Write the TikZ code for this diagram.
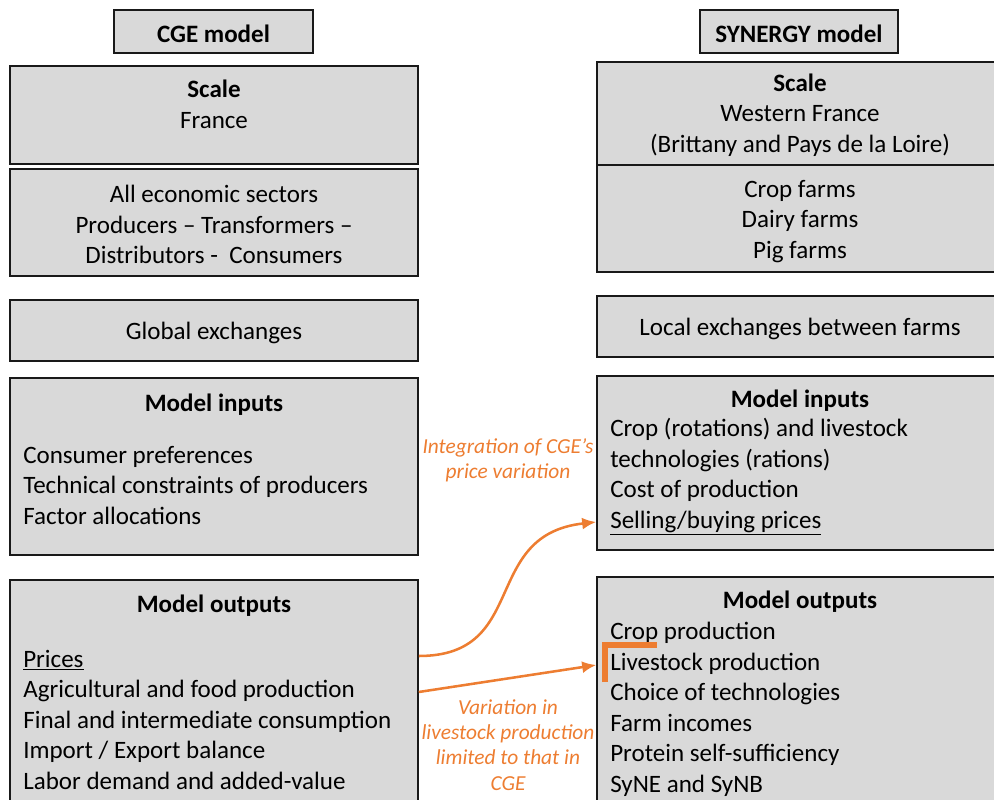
\documentclass[tikz,border=0pt]{standalone}
\usepackage{fontspec}
\setmainfont{Carlito}
\usepackage{xcolor}
\usetikzlibrary{fit,arrows.meta}
\definecolor{panelgray}{HTML}{D9D9D9}
\definecolor{linkorange}{HTML}{ED7D31}
\tikzset{
	panel/.style={draw=black!90, fill=panelgray, line width=1.1pt, inner sep=0pt},
	body/.style={font=\fontsize{17.8pt}{21.7pt}\selectfont, inner sep=0pt, yshift=-1.2pt},
	note/.style={font=\fontsize{15.2pt}{18pt}\selectfont\itshape, text=linkorange, align=center, inner sep=0pt},
	link/.style={draw=linkorange, line width=1.8pt, -{Latex[length=10pt,width=8.5pt]}}
}

\begin{document}
\begin{tikzpicture}[x=0.025cm, y=-0.025cm]
	\useasboundingbox (0,0) rectangle (994,800);

	% CGE column
	\node[panel, fit={(114,10) (313,53)}] (cgehead) {};
	\node[body] at (213.5,32) (cgeheadtxt) {\textbf{CGE model}};

	\node[panel, fit={(10,66) (418,164)}] (cgescale) {};
	\node[body, align=center] at (214,102.5) (cgescaletxt) {\textbf{Scale}\\France};

	\node[panel, fit={(10,169) (418,276)}] (cgesect) {};
	\node[body, align=center] at (214,223) (cgesecttxt) {All economic sectors\\Producers -- Transformers --\\Distributors -\ \ Consumers};

	\node[panel, fit={(10,300) (418,361)}] (cgeexch) {};
	\node[body] at (214,331) (cgeexchtxt) {Global exchanges};

	\node[panel, fit={(10,378) (418,555)}] (cgein) {};
	\node[body] at (214,403) (cgeintitle) {\textbf{Model inputs}};
	\node[body, align=left, anchor=west] at (23,483.5) (cgeinlist) {Consumer preferences\\Technical constraints of producers\\Factor allocations};

	\node[panel, fit={(10,580) (418,806)}] (cgeout) {};
	\node[body] at (214,604) (cgeouttitle) {\textbf{Model outputs}};
	\node[body, align=left, anchor=west] at (23,718) (cgeoutlist) {\underline{Prices}\\Agricultural and food production\\Final and intermediate consumption\\Import / Export balance\\Labor demand and added-value};

	% SYNERGY column
	\node[panel, fit={(700,10) (898,53)}] (synhead) {};
	\node[body] at (799,32) (synheadtxt) {\textbf{SYNERGY model}};

	\node[panel, fit={(597,62) (998,165)}] (synscale) {};
	\node[body, align=center] at (800,113.5) (synscaletxt) {\textbf{Scale}\\Western France\\(Brittany and Pays de la Loire)};

	\node[panel, fit={(597,165) (998,272)}] (synfarms) {};
	\node[body, align=center] at (800,219.5) (synfarmstxt) {Crop farms\\Dairy farms\\Pig farms};

	\node[panel, fit={(597,296) (998,357)}] (synexch) {};
	\node[body] at (800,327) (synexchtxt) {Local exchanges between farms};

	\node[panel, fit={(597,376) (998,550)}] (synin) {};
	\node[body] at (800,399) (synintitle) {\textbf{Model inputs}};
	\node[body, align=left, anchor=west] at (610,475) (syninlist) {Crop (rotations) and livestock\\technologies (rations)\\Cost of production\\\underline{Selling/buying prices}};

	\node[panel, fit={(597,577) (998,806)}] (synout) {};
	\node[body] at (800,600) (synouttitle) {\textbf{Model outputs}};
	\node[body, align=left, anchor=west] at (610,707.5) (synoutlist) {Crop production\\Livestock production\\Choice of technologies\\Farm incomes\\Protein self-sufficiency\\SyNE and SyNB};

	% links between the models
	\coordinate (pricesrow) at (cgeout.east |- 0,656);
	\coordinate (sellrow) at (synin.west |- 0,522);
	\coordinate (stockout) at (cgeout.east |- 0,692);
	\coordinate (stockin) at (synout.west |- 0,665);

	\draw[link] (pricesrow) .. controls (530,656) and (480,535) .. (sellrow);
	\draw[link] (stockout) -- (stockin);

	\node[note] at (508,460.5) (pricenote) {Integration of CGE's\\price variation};
	\node[note] at (508,745) (stocknote) {Variation in\\livestock production\\limited to that in\\CGE};

	\draw[draw=linkorange, line width=3.6pt, line join=miter] (605,682) -- (605,645) -- (657,645);
\end{tikzpicture}
\end{document}
